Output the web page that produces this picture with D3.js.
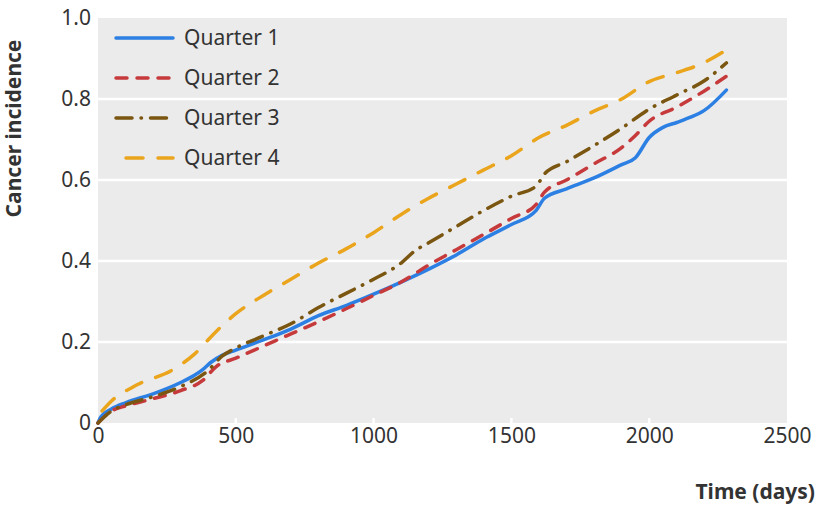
<!DOCTYPE html>
<html>
<head>
<meta charset="utf-8">
<script src="https://cdn.jsdelivr.net/npm/d3@7"></script>
<style>
  body { margin: 0; background: #fff; }
  svg text { font-family: "Noto Sans", "Open Sans", sans-serif; fill: #333; }
</style>
</head>
<body>
<div id="chart"></div>
<script>
// Cumulative cancer incidence by quarter
const quarters = ['Quarter 1', 'Quarter 2', 'Quarter 3', 'Quarter 4']
const colors = ['#2c7fe3', '#c63a3c', '#7a5610', '#eaa51d']
const dashes = ['none', '11,10', '16,9,0.5,9', '17,15']

const q1Days = [0, 10, 50, 100, 200, 300, 350, 380, 410, 450, 500, 600, 700, 800, 900, 1000, 1100, 1200, 1300, 1400, 1500, 1590, 1620, 1700, 1800, 1900, 1950, 2000, 2050, 2100, 2150, 2200, 2280]
const q1Vals = [0, 0.015, 0.035, 0.05, 0.072, 0.1, 0.118, 0.132, 0.15, 0.167, 0.18, 0.205, 0.232, 0.265, 0.29, 0.318, 0.348, 0.38, 0.415, 0.455, 0.49, 0.525, 0.555, 0.578, 0.605, 0.638, 0.655, 0.705, 0.73, 0.742, 0.755, 0.772, 0.822]

const q2Days = [0, 50, 100, 200, 300, 380, 430, 500, 600, 700, 800, 900, 1000, 1100, 1200, 1300, 1400, 1500, 1590, 1620, 1700, 1800, 1900, 1950, 2000, 2100, 2200, 2280]
const q2Vals = [0, 0.03, 0.042, 0.06, 0.08, 0.105, 0.14, 0.16, 0.19, 0.22, 0.25, 0.282, 0.315, 0.348, 0.39, 0.428, 0.466, 0.505, 0.54, 0.57, 0.6, 0.64, 0.68, 0.71, 0.745, 0.78, 0.82, 0.856]

const q3Days = [0, 50, 100, 200, 300, 400, 450, 500, 600, 700, 800, 900, 1000, 1100, 1150, 1200, 1300, 1400, 1500, 1590, 1620, 1700, 1800, 1900, 2000, 2100, 2200, 2280]
const q3Vals = [0, 0.03, 0.045, 0.065, 0.09, 0.13, 0.165, 0.185, 0.215, 0.245, 0.285, 0.32, 0.355, 0.395, 0.425, 0.445, 0.485, 0.525, 0.56, 0.585, 0.615, 0.645, 0.685, 0.728, 0.775, 0.81, 0.845, 0.889]

const q4Days = [15, 50, 130, 280, 350, 420, 500, 600, 700, 800, 900, 1000, 1100, 1200, 1300, 1400, 1500, 1600, 1700, 1800, 1900, 2000, 2100, 2200, 2280]
const q4Vals = [0.03, 0.055, 0.09, 0.135, 0.17, 0.22, 0.27, 0.315, 0.355, 0.395, 0.43, 0.47, 0.515, 0.555, 0.59, 0.625, 0.66, 0.705, 0.735, 0.77, 0.8, 0.843, 0.865, 0.89, 0.921]

const xTicks = [0, 500, 1000, 1500, 2000, 2500]
const yTicks = [0, 0.2, 0.4, 0.6, 0.8, 1.0]
const yTickLabels = ['0', '0.2', '0.4', '0.6', '0.8', '1.0']

const series = [
  d3.zip(q1Days, q1Vals),
  d3.zip(q2Days, q2Vals),
  d3.zip(q3Days, q3Vals),
  d3.zip(q4Days, q4Vals)
]

const W = 820, H = 508
const m = { left: 98, right: 33, top: 18, bottom: 85 }

const svg = d3.select('#chart').append('svg')
  .attr('width', W).attr('height', H)

const x = d3.scaleLinear().domain([0, 2500]).range([m.left, W - m.right])
const y = d3.scaleLinear().domain([0, 1]).range([H - m.bottom, m.top])

// panel background
svg.append('rect')
  .attr('x', x(0)).attr('y', y(1))
  .attr('width', x(2500) - x(0)).attr('height', y(0) - y(1))
  .attr('fill', '#ebebeb')

// horizontal white gridlines
svg.append('g').selectAll('line')
  .data(yTicks.slice(1, -1))
  .join('line')
  .attr('x1', x(0)).attr('x2', x(2500))
  .attr('y1', d => y(d)).attr('y2', d => y(d))
  .attr('stroke', '#fff').attr('stroke-width', 2.5)

// small white tick notches at the bottom
svg.append('g').selectAll('line')
  .data(xTicks.slice(1, -1))
  .join('line')
  .attr('x1', d => x(d)).attr('x2', d => x(d))
  .attr('y1', y(0)).attr('y2', y(0) - 5)
  .attr('stroke', '#fff').attr('stroke-width', 2.5)

// axes (labels only)
const xAxis = svg.append('g')
  .attr('transform', `translate(0,${y(0)})`)
  .call(d3.axisBottom(x).tickValues(xTicks).tickSize(0).tickPadding(5).tickFormat(d3.format('d')))
xAxis.select('.domain').remove()
xAxis.selectAll('text').style('font-size', '21px').attr('fill', '#333')

const yAxis = svg.append('g')
  .attr('transform', `translate(${x(0)},0)`)
  .call(d3.axisLeft(y).tickValues(yTicks).tickSize(0).tickPadding(7)
    .tickFormat((d, i) => yTickLabels[i]))
yAxis.select('.domain').remove()
yAxis.selectAll('text').style('font-size', '21px').attr('fill', '#333')

// lines
const line = d3.line()
  .x(d => x(d[0])).y(d => y(d[1]))
  .curve(d3.curveMonotoneX)

svg.append('g').selectAll('path')
  .data(series)
  .join('path')
  .attr('d', line)
  .attr('fill', 'none')
  .attr('stroke', (d, i) => colors[i])
  .attr('stroke-width', 3.5)
  .attr('stroke-linecap', 'round')
  .attr('stroke-linejoin', 'round')
  .attr('stroke-dasharray', (d, i) => dashes[i])

// legend
const legend = svg.append('g')
const rowY = i => 38 + i * 40
quarters.forEach((q, i) => {
  legend.append('line')
    .attr('x1', i === 3 ? 126 : 116).attr('x2', 173)
    .attr('y1', rowY(i)).attr('y2', rowY(i))
    .attr('stroke', colors[i])
    .attr('stroke-width', 3.5)
    .attr('stroke-linecap', 'round')
    .attr('stroke-dasharray', dashes[i])
  legend.append('text')
    .attr('x', 184).attr('y', rowY(i))
    .attr('dy', '0.35em')
    .style('font-size', '21px')
    .text(q)
})

// axis titles
svg.append('text')
  .attr('transform', `translate(21,${(y(0) + y(1)) / 2 - 92}) rotate(-90)`)
  .attr('text-anchor', 'middle')
  .style('font-size', '21px').style('font-weight', 'bold')
  .attr('fill', '#222')
  .text('Cancer incidence')

svg.append('text')
  .attr('x', 815).attr('y', 499)
  .attr('text-anchor', 'end')
  .style('font-size', '21px').style('font-weight', 'bold')
  .attr('fill', '#222')
  .text('Time (days)')
</script>
</body>
</html>
